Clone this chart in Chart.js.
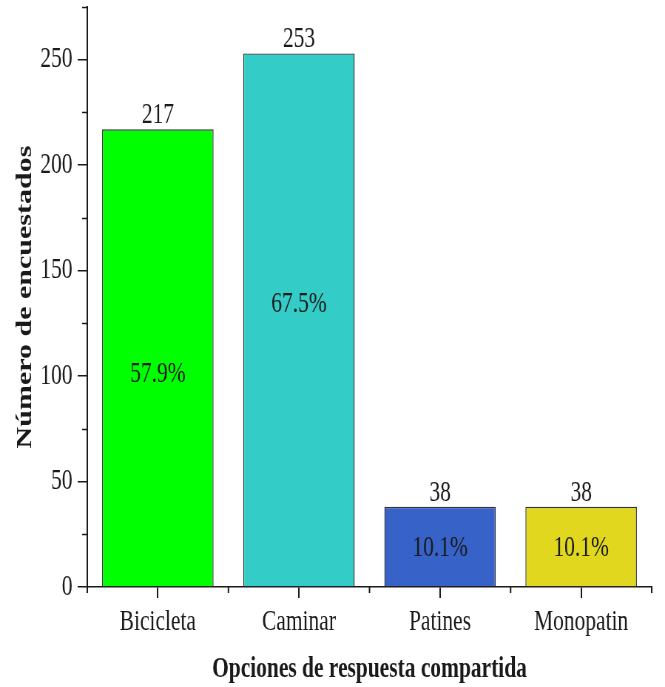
<!DOCTYPE html>
<html>
<head>
<meta charset="utf-8">
<script src="https://cdn.jsdelivr.net/npm/chart.js@4"></script>
<style>
  html, body { margin: 0; padding: 0; background: #fff; overflow: hidden; }
  #wrap { width: 665px; height: 687px; overflow: hidden; }
  /* condensed rendering: the chart is laid out wide and squeezed horizontally */
  #c { display: block; width: 899px; height: 687px; transform: scaleX(0.7397); transform-origin: 0 0; }
</style>
</head>
<body>
<div id="wrap"><canvas id="c" width="899" height="687"></canvas></div>
<script>
const categories = ['Bicicleta', 'Caminar', 'Patines', 'Monopatin'];
const respondents = [217, 253, 38, 38];
const shares = ['57.9%', '67.5%', '10.1%', '10.1%'];
const barColors = ['#00ff00', '#33ccc6', '#3762c8', '#e0d71e'];
const yTickValues = [0, 50, 100, 150, 200, 250];

const INK = '#1a1a1a';
const FONT = "'Liberation Serif', 'Times New Roman', serif";

// minor ticks between the labelled ones on both axes
const minorTicks = {
  id: 'minorTicks',
  afterDraw(chart) {
    const { ctx, chartArea, scales: { x, y } } = chart;
    ctx.save();
    ctx.strokeStyle = INK;
    // y: every 25 between labelled ticks, outward
    ctx.lineWidth = 1.5;
    for (let v = 25; v <= y.max; v += 50) {
      const py = Math.round(y.getPixelForValue(v)) + 0.5;
      ctx.beginPath();
      ctx.moveTo(chartArea.left - 7, py);
      ctx.lineTo(chartArea.left, py);
      ctx.stroke();
    }
    // x: at category boundaries, downward
    ctx.lineWidth = 2;
    const n = categories.length;
    const step = x.getPixelForValue(1) - x.getPixelForValue(0);
    for (let i = 0; i <= n; i++) {
      const px = x.getPixelForValue(0) - step / 2 + i * step;
      ctx.beginPath();
      ctx.moveTo(px, chartArea.bottom);
      ctx.lineTo(px, chartArea.bottom + 6);
      ctx.stroke();
    }
    ctx.restore();
  }
};

// count above each bar, share inside it
const barLabels = {
  id: 'barLabels',
  afterDatasetsDraw(chart, args, opts) {
    const { ctx, scales: { y } } = chart;
    const meta = chart.getDatasetMeta(0);
    ctx.save();
    ctx.fillStyle = INK;
    ctx.font = '29px ' + FONT;
    ctx.textAlign = 'center';
    meta.data.forEach((bar, i) => {
      ctx.textBaseline = 'alphabetic';
      ctx.fillText(String(respondents[i]), bar.x, bar.y - 6);
      ctx.textBaseline = 'middle';
      ctx.fillText(shares[i], bar.x, y.getPixelForValue(opts.shareAt[i]));
    });
    ctx.restore();
  }
};

new Chart(document.getElementById('c'), {
  type: 'bar',
  data: {
    labels: categories,
    datasets: [{
      data: respondents,
      backgroundColor: barColors,
      borderColor: '#333333',
      borderWidth: 1.4,
      barPercentage: 0.79,
      categoryPercentage: 1.0
    }]
  },
  options: {
    responsive: false,
    devicePixelRatio: 1,
    animation: false,
    layout: { padding: { top: 7, right: 18, left: 0, bottom: 0 } },
    plugins: {
      legend: { display: false },
      tooltip: { enabled: false },
      barLabels: { shareAt: [101, 134, 18.5, 18.5] }
    },
    scales: {
      x: {
        offset: true,
        afterFit(scale) { scale.height = 100; scale.paddingLeft = 0; scale.paddingRight = 0; },
        grid: { display: true, offset: false, drawOnChartArea: false, drawTicks: true, tickLength: 11, color: INK, lineWidth: 2 },
        border: { display: true, color: INK, width: 1.5 },
        ticks: { color: INK, font: { family: FONT, size: 29 }, padding: 7, maxRotation: 0 },
        title: { display: true, text: 'Opciones de respuesta compartida', color: INK,
                 font: { family: FONT, size: 29, weight: 'bold' }, padding: { top: 0, bottom: 0 } }
      },
      y: {
        min: 0,
        max: 275,
        afterFit(scale) { scale.width = 118; scale.paddingTop = 0; scale.paddingBottom = 0; },
        afterBuildTicks(scale) { scale.ticks = yTickValues.map(v => ({ value: v })); },
        grid: { display: true, drawOnChartArea: false, drawTicks: true, tickLength: 13, color: INK, lineWidth: 1.5 },
        border: { display: true, color: INK, width: 2 },
        ticks: { color: INK, font: { family: FONT, size: 29 }, padding: 7, includeBounds: false },
        title: { display: true, text: 'Número de encuestados', color: INK,
                 font: { family: FONT, size: 30, weight: 'bold' }, padding: { top: 16, bottom: 0 } }
      }
    }
  },
  plugins: [minorTicks, barLabels]
});
</script>
</body>
</html>
